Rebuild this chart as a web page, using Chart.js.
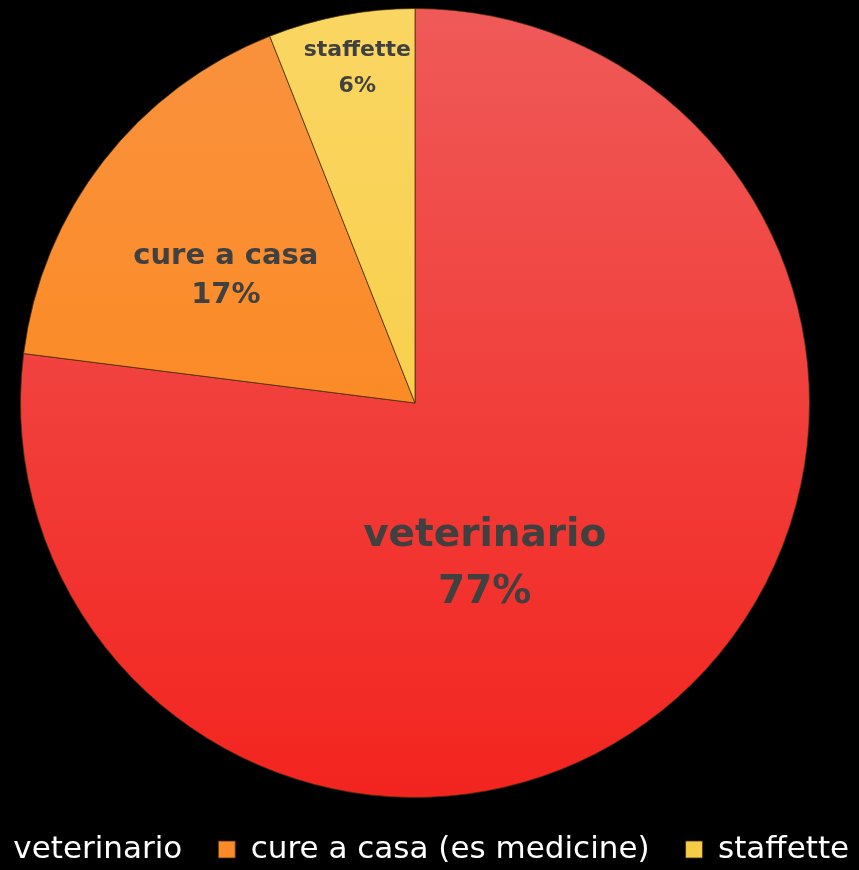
<!DOCTYPE html>
<html>
<head>
<meta charset="utf-8">
<script src="https://cdn.jsdelivr.net/npm/chart.js@4.4.1/dist/chart.umd.min.js"></script>
<style>
    html, body { margin: 0; padding: 0; background: #000; overflow: hidden; width: 859px; height: 870px; }
    #wrap { position: absolute; left: -70px; top: 0; }
</style>
</head>
<body>
<div id="wrap"><canvas id="pieChart" width="1000" height="875"></canvas></div>
<script>
// dati del grafico
const categories = ['veterinario', 'cure a casa (es medicine)', 'staffette'];
const shortLabels = ['veterinario', 'cure a casa', 'staffette'];
const values = [77, 17, 6];
const percentLabels = ['77%', '17%', '6%'];

// colori (alto -> basso)
const topColors = ['#ef5a58', '#f9923f', '#fad662'];
const bottomColors = ['#f3241f', '#fe840e', '#f7c838'];
const legendColors = ['#d8302a', '#fb8a28', '#f4cc46'];

// posizione etichette: frazione del raggio, spostamento angolare (gradi), dimensione font, interlinea
const labelRadius = [0.445, 0.577, 0.86];
const labelAngleShift = [18, -4, 1];
const labelFont = [39, 29, 22];
const labelLineGap = [57, 39, 36];

function sliceGradient(ctx, i) {
    const chart = ctx.chart;
    const area = chart.chartArea;
    if (!area) return topColors[i];
    const g = chart.ctx.createLinearGradient(0, area.top, 0, area.bottom);
    g.addColorStop(0, topColors[i]);
    g.addColorStop(1, bottomColors[i]);
    return g;
}

// etichette dentro le fette
const sliceLabels = {
    id: 'sliceLabels',
    afterDatasetsDraw(chart) {
        const ctx = chart.ctx;
        const meta = chart.getDatasetMeta(0);
        meta.data.forEach(function(arc, i) {
            const p = arc.getProps(['x', 'y', 'startAngle', 'endAngle', 'outerRadius'], true);
            const mid = (p.startAngle + p.endAngle) / 2 + labelAngleShift[i] * Math.PI / 180;
            const r = p.outerRadius * labelRadius[i];
            const cx = p.x + Math.cos(mid) * r;
            const cy = p.y + Math.sin(mid) * r;
            ctx.save();
            ctx.fillStyle = '#404040';
            ctx.textAlign = 'center';
            ctx.textBaseline = 'middle';
            ctx.font = 'bold ' + labelFont[i] + 'px "DejaVu Sans"';
            ctx.fillText(shortLabels[i], cx, cy - labelLineGap[i] / 2);
            ctx.fillText(percentLabels[i], cx, cy + labelLineGap[i] / 2);
            ctx.restore();
        });
    }
};

const ctx = document.getElementById('pieChart').getContext('2d');
const chart = new Chart(ctx, {
    type: 'pie',
    data: {
        labels: categories,
        datasets: [{
            data: values,
            backgroundColor: function(c) { return sliceGradient(c, c.dataIndex); },
            borderColor: 'rgba(70, 45, 0, 0.75)',
            borderWidth: 1
        }]
    },
    options: {
        responsive: false,
        animation: false,
        layout: {
            padding: { top: 8, right: 30, left: 0, bottom: 0 }
        },
        plugins: {
            tooltip: { enabled: false },
            legend: {
                position: 'bottom',
                labels: {
                    color: '#ffffff',
                    boxWidth: 17,
                    boxHeight: 17,
                    padding: 36,
                    font: { family: '"DejaVu Sans"', size: 31 },
                    generateLabels: function(chart) {
                        return categories.map(function(name, i) {
                            return {
                                text: name,
                                fillStyle: legendColors[i],
                                strokeStyle: 'rgba(70, 45, 0, 0.8)',
                                lineWidth: 1,
                                fontColor: '#ffffff',
                                hidden: false,
                                index: i
                            };
                        });
                    }
                }
            }
        }
    },
    plugins: [sliceLabels]
});
</script>
</body>
</html>
